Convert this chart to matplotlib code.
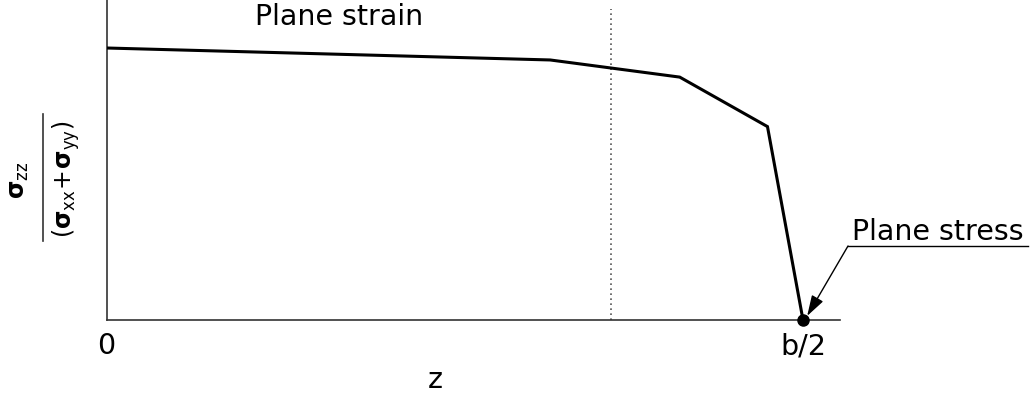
import matplotlib
matplotlib.use("Agg")
import matplotlib.pyplot as plt
from matplotlib.lines import Line2D

plt.rcParams["font.family"] = ["DejaVu Sans"]
plt.rcParams["mathtext.fontset"] = "dejavusans"

# Through-thickness stress ratio from the mid-plane (z = 0) to the free surface (z = b/2)
z = [0.0, 0.637, 0.823, 0.949, 1.0]
ratio = [1.0, 0.956, 0.893, 0.711, 0.0]
tick_positions = [0.0, 1.0]
tick_labels = ["0", "b/2"]
strain_limit = 0.724

FS = 20.5

fig = plt.figure(figsize=(10.33, 4.01), dpi=100)
ax = fig.add_axes([106.5 / 1033, 81 / 401, (840 - 106.5) / 1033, 320 / 401])

ax.plot(z, ratio, color="black", lw=2.2, solid_joinstyle="miter", zorder=3)
ax.plot([z[-1]], [ratio[-1]], "o", color="black", ms=8, clip_on=False, zorder=4)
ax.axvline(strain_limit, ymin=0, ymax=(320 - 9) / 320, color="#555555", lw=1.2,
           ls=(0, (1, 2)))

ax.set_xlim(0, (840 - 106.5) / 696.5)
ax.set_ylim(0, 320 / 272)

for side in ("top", "right"):
    ax.spines[side].set_visible(False)
for side in ("left", "bottom"):
    ax.spines[side].set_color("#333333")
    ax.spines[side].set_linewidth(1.2)

ax.set_xticks(tick_positions)
ax.set_xticklabels(tick_labels, fontsize=FS)
ax.set_yticks([])
ax.tick_params(axis="x", length=0, pad=9)
ax.set_xlabel("z", fontsize=FS, va="baseline")
ax.xaxis.set_label_coords((435 - 106.5) / 733.5, (320 - 388) / 320)

ax.text(0.213, 1.085, "Plane strain", fontsize=FS, va="baseline", ha="left")

# Surface annotation with underline
tx, ty = (848 - 106.5) / 696.5, (320 - 246) / 272
ax.annotate("", xy=(z[-1] + 0.006, ratio[-1] + 0.015), xytext=(tx, ty),
            arrowprops=dict(arrowstyle="-|>,head_length=0.7,head_width=0.22",
                            color="black", lw=1.0, mutation_scale=18,
                            shrinkA=0, shrinkB=0),
            annotation_clip=False)
ax.plot([tx, (1028 - 106.5) / 696.5], [ty, ty], color="black", lw=1.0, clip_on=False)
ax.text(tx + 0.006, ty + 0.022, "Plane stress", fontsize=FS, va="baseline", ha="left")

# Y label drawn as a stacked fraction
fig.text(19 / 1033, 1 - 180 / 401, r"$\mathbf{\sigma}_{\mathrm{zz}}$", rotation=90,
         fontsize=17, ha="center", va="center")
fig.text(66 / 1033, 1 - 179 / 401,
         r"$(\mathbf{\sigma}_{\mathrm{xx}}\!+\!\mathbf{\sigma}_{\mathrm{yy}})$",
         rotation=90, fontsize=17, ha="center", va="center")
fig.add_artist(Line2D([43 / 1033, 43 / 1033], [1 - 114 / 401, 1 - 241 / 401],
                      color="#333333", lw=1.2))

fig.savefig("out.png", dpi=100)
